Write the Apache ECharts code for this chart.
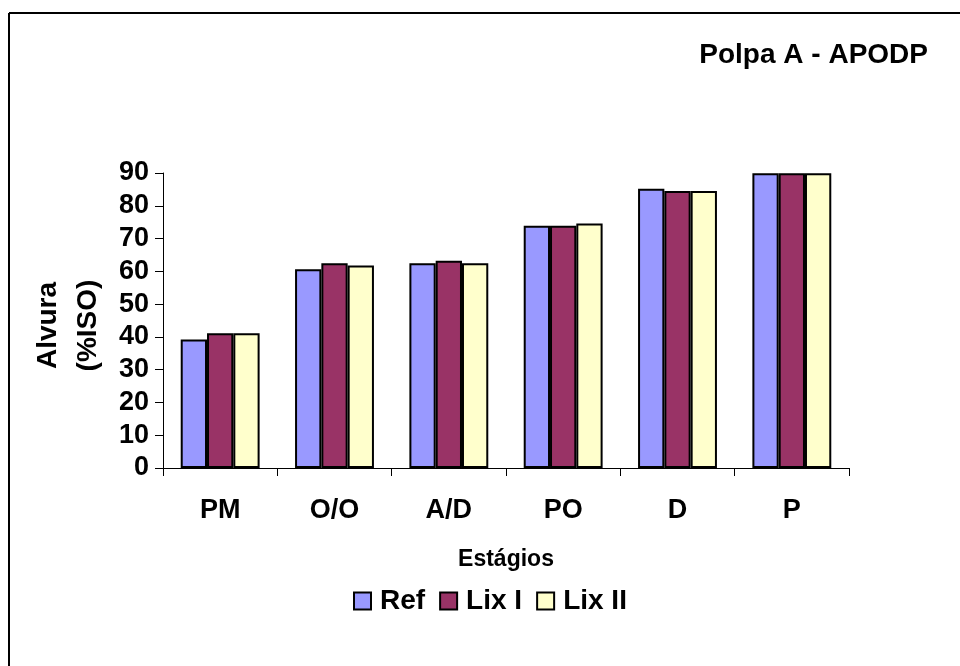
<!DOCTYPE html>
<html>
<head>
<meta charset="utf-8">
<script src="https://cdn.jsdelivr.net/npm/echarts@6/dist/echarts.min.js"></script>
<style>html,body{margin:0;padding:0;background:#fff}#c{width:960px;height:666px}</style>
</head>
<body>
<div id="c"></div>
<script>
const categories = ['PM', 'O/O', 'A/D', 'PO', 'D', 'P'];
const refValues = [39.2, 60.6, 62.5, 73.9, 85.2, 89.9];
const lixIValues = [41.1, 62.5, 63.2, 73.9, 84.5, 89.9];
const lixIIValues = [41.1, 61.8, 62.5, 74.6, 84.5, 89.9];
const seriesNames = ['Ref', 'Lix I', 'Lix II'];
const yTicks = { min: 0, max: 90, interval: 10 };

const F = '"Liberation Sans", Arial, sans-serif';
const colors = ['#9999FF', '#993366', '#FFFFCC'];
const chart = echarts.init(document.getElementById('c'), null, { renderer: 'canvas' });
const mk = (name, data, i) => ({
  name, type: 'bar', data, barGap: '0%', barCategoryGap: '31%',
  itemStyle: { color: colors[i], borderColor: '#000', borderWidth: 2 },
  emphasis: { disabled: true }, animation: false
});
chart.setOption({
  animation: false,
  backgroundColor: '#fff',
  title: {
    text: 'Polpa A - APODP', right: 27, top: 36,
    textStyle: { fontFamily: F, fontWeight: 'bold', fontSize: 28, color: '#000' }
  },
  legend: {
    data: seriesNames, bottom: 46, left: 348, itemWidth: 17, itemHeight: 17, itemGap: 14,
    icon: 'rect',
    textStyle: { fontFamily: F, fontWeight: 'bold', fontSize: 28, color: '#000', padding: [0, 0, 0, 4] }
  },
  grid: { left: 163, right: 111, top: 173, bottom: 198 },
  xAxis: {
    type: 'category', data: categories,
    name: 'Estágios', nameLocation: 'middle', nameGap: 80,
    nameTextStyle: { fontFamily: F, fontWeight: 'bold', fontSize: 23, color: '#000' },
    axisLine: { lineStyle: { color: '#000', width: 1 } },
    axisTick: { show: true, length: 8, lineStyle: { color: '#000' } },
    axisLabel: { fontFamily: F, fontWeight: 'bold', fontSize: 27, color: '#000', margin: 29 }
  },
  yAxis: {
    type: 'value', min: yTicks.min, max: yTicks.max, interval: yTicks.interval,
    name: 'Alvura\n(%ISO)', nameLocation: 'middle', nameGap: 45,
    nameTextStyle: { fontFamily: F, fontWeight: 'bold', fontSize: 28, color: '#000', lineHeight: 40, padding: [0, 10, 0, 0] },
    axisLine: { show: true, lineStyle: { color: '#000', width: 1 } },
    axisTick: { show: true, length: 8, lineStyle: { color: '#000' } },
    splitLine: { show: false },
    axisLabel: { fontFamily: F, fontWeight: 'bold', fontSize: 27, color: '#000', margin: 14 }
  },
  series: [mk(seriesNames[0], refValues, 0), mk(seriesNames[1], lixIValues, 1), mk(seriesNames[2], lixIIValues, 2)],
  graphic: [
    { type: 'line', shape: { x1: 9, y1: 13, x2: 960, y2: 13 }, style: { stroke: '#000', lineWidth: 2 } },
    { type: 'line', shape: { x1: 9, y1: 13, x2: 9, y2: 666 }, style: { stroke: '#000', lineWidth: 2 } }
  ]
});
</script>
</body>
</html>
